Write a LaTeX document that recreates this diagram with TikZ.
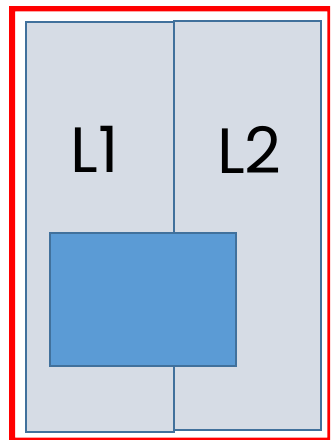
\documentclass[tikz,border=0pt]{standalone}
\usepackage{fontspec}
\setmainfont{Poppins}
\definecolor{laneFill}{HTML}{D6DCE5}
\definecolor{laneLine}{HTML}{41719C}
\definecolor{boxFill}{HTML}{5B9BD5}
\tikzset{
  lane/.style={fill=laneFill, draw=laneLine, line width=2pt},
  block/.style={fill=boxFill, draw=laneLine, line width=2pt},
  lanelabel/.style={anchor=base, inner sep=0pt, font=\fontsize{64}{64}\selectfont}
}
\begin{document}
\begin{tikzpicture}[x=1pt,y=-1pt]
\useasboundingbox (0,0) rectangle (332,440);
\fill[white] (0,0) rectangle (332,440);
% red frame
\fill[red, even odd rule] (9,6) rectangle (330,441) (15,11.3) rectangle (327.3,437.6);
% lanes
\draw[lane] (26,22) rectangle (174,432.3);
\draw[lane] (174,20.7) rectangle (321.3,430.3);
% block
\draw[block] (50,233) rectangle (236.3,366);
% labels
\node[lanelabel] (l1) at (95,172.3) {L1};
\node[lanelabel] (l2) at (249.5,173.3) {L2};
\end{tikzpicture}
\end{document}
